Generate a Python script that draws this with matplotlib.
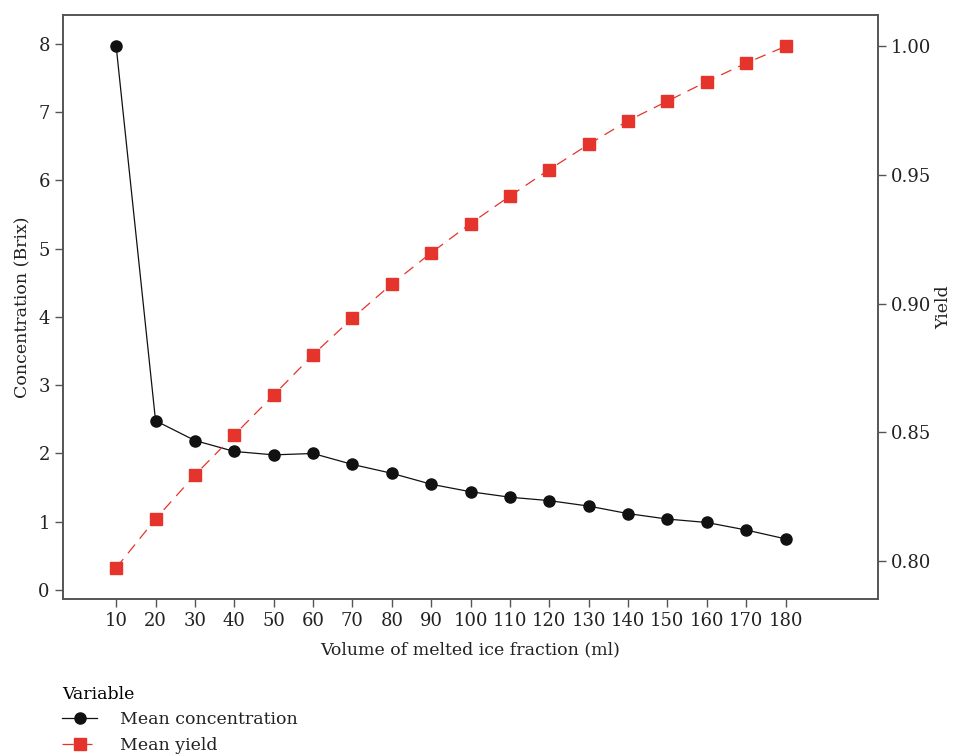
import matplotlib
matplotlib.use('Agg')
import matplotlib.pyplot as plt

plt.rcParams['font.family'] = 'DejaVu Serif'

# Datos
volumen = [10, 20, 30, 40, 50, 60, 70, 80, 90, 100, 110, 120, 130, 140, 150, 160, 170, 180]
concentracion = [7.96, 2.48, 2.19, 2.03, 1.98, 2.00, 1.84, 1.71, 1.55, 1.44, 1.36, 1.31,
                 1.23, 1.12, 1.04, 0.99, 0.88, 0.75]
rendimiento = [0.7972, 0.8162, 0.8333, 0.8489, 0.8644, 0.8801, 0.8943, 0.9076, 0.9197,
               0.9311, 0.9418, 0.9521, 0.9619, 0.9711, 0.9787, 0.9863, 0.9935, 1.0000]

negro = '#111111'
rojo = '#E4342B'
gris = '#555555'

fig = plt.figure(figsize=(9.55, 7.54), dpi=100)
ax = fig.add_axes([0.066, 0.2056, 0.853, 0.7745])
ax2 = ax.twinx()

l1, = ax.plot(volumen, concentracion, color=negro, linewidth=0.9, marker='o',
              markersize=8, label='Mean concentration')
l2, = ax2.plot(volumen, rendimiento, color=rojo, linewidth=0.9, linestyle=(0, (9, 6)),
               marker='s', markersize=8.5, label='Mean yield')

ax.set_xlim(-3.5, 203.4)
ax.set_ylim(-0.13, 8.42)
ax2.set_ylim(0.7851, 1.0122)

ax.set_xticks(volumen)
ax.set_yticks(range(0, 9))
ax2.set_yticks([0.80, 0.85, 0.90, 0.95, 1.00])
ax2.set_yticklabels(['0.80', '0.85', '0.90', '0.95', '1.00'])

for a in (ax, ax2):
    for s in a.spines.values():
        s.set_color(gris)
        s.set_linewidth(1.2)
    a.tick_params(colors=gris, labelcolor='#222222', labelsize=13, length=6, width=1)

ax.set_xlabel('Volume of melted ice fraction (ml)', fontsize=12.5, color='#222222', labelpad=8)
ax.set_ylabel('Concentration (Brix)', fontsize=12.5, color='#222222', labelpad=5)
ax2.set_ylabel('Yield', fontsize=12.5, color='#222222', labelpad=3)

leg = fig.legend(handles=[l1, l2], loc='upper left', bbox_to_anchor=(0.058, 0.100),
                 frameon=False, title='Variable', fontsize=12.5, title_fontsize=12.5,
                 alignment='left', handlelength=2.0, handletextpad=1.3,
                 borderaxespad=0, labelspacing=0.5)
for t in leg.get_texts():
    t.set_color('#222222')

fig.savefig('out.png', dpi=100)
